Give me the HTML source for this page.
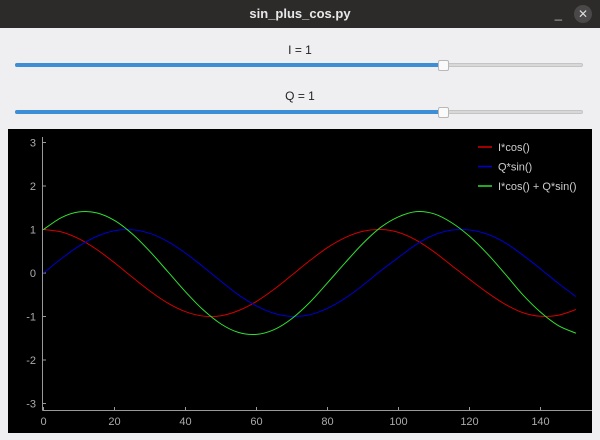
<!DOCTYPE html>
<html><head><meta charset="utf-8"><style>
body{margin:0;width:600px;height:440px;background:#efeef0;font-family:"Liberation Sans",sans-serif;overflow:hidden;position:relative}
.title{position:absolute;left:0;top:0;width:600px;height:28px;background:#2d2a2a;color:#e8e8e8;font-weight:bold;font-size:13px;text-align:center;line-height:28px}
.close{position:absolute;right:8px;top:5px;width:18px;height:18px;border-radius:9px;background:#4a4848;color:#ddd;font-size:12px;line-height:18px;text-align:center;font-weight:normal}
.min{position:absolute;right:38px;top:0;color:#bbb;font-weight:normal}
.lbl{position:absolute;width:600px;text-align:center;font-size:12px;color:#222}
.track{position:absolute;left:15px;width:568px;height:4px;border-radius:2px;background:#d8d8d8;border:1px solid #c4c4c4;box-sizing:border-box}
.fill{position:absolute;left:15px;width:430px;height:4px;border-radius:2px;background:#3d8ed6}
.handle{position:absolute;left:438px;width:11px;height:11px;border-radius:2px;background:#fafafa;border:1px solid #b8b8b8;box-sizing:border-box}
svg{position:absolute;left:8px;top:129px}
</style></head><body>
<div class="title">sin_plus_cos.py<span class="min">_</span><div class="close">✕</div></div>
<div class="lbl" style="top:43px">I = 1</div>
<div class="track" style="top:63px"></div>
<div class="fill" style="top:63px"></div>
<div class="handle" style="top:60px"></div>
<div class="lbl" style="top:89px">Q = 1</div>
<div class="track" style="top:110px"></div>
<div class="fill" style="top:110px"></div>
<div class="handle" style="top:107px"></div>
<svg id="plot" width="584" height="304"></svg>
<script>
const xs=[0,5,10,15,20,25,30,35,40,45,50,55,60,65,70,75,80,85,90,95,100,105,110,115,120,125,130,135,140,145,150];
const cosVals=[1,.945,.7859,.5403,.2352,-.0957,-.4161,-.6908,-.8893,-.99,-.9817,-.8623,-.6536,-.3714,-.0462,.2837,.5853,.8157,.9602,.9996,.9336,.7539,.4872,.17,-.1455,-.4497,-.7163,-.9111,-.9954,-.9717,-.8391];
const sinVals=[0,.3272,.6184,.8415,.9719,.9954,.9093,.7231,.4575,.1411,-.1906,-.5064,-.7568,-.9285,-.9989,-.9589,-.8108,-.5784,-.2794,.0502,.3582,.657,.8733,.9854,.9894,.8932,.6978,.4121,.0958,-.2362,-.544];
const sumVals=cosVals.map((v,i)=>v+sinVals[i]);
const xTicks=[0,20,40,60,80,100,120,140];
const yTicks=[3,2,1,0,-1,-2,-3];
const legendLabels=["I*cos()","Q*sin()","I*cos() + Q*sin()"];
const colors=["#d40000","#0000d0","#30e030"];
const NS="http://www.w3.org/2000/svg";
const svg=document.getElementById('plot');
const X=v=>35.5+v*3.55, Y=v=>144-v*43.5;
function mk(t,a){const e=document.createElementNS(NS,t);for(const k in a)e.setAttribute(k,a[k]);svg.appendChild(e);return e;}
const bg=mk('rect',{x:0,y:0,width:584,height:304,fill:'#000'});


const ya=mk('line',{x1:34.5,y1:8,x2:34.5,y2:281.5,stroke:'#999','stroke-width':1});


const xa=mk('line',{x1:34.5,y1:281.5,x2:584,y2:281.5,stroke:'#999','stroke-width':1});


yTicks.forEach(v=>{
 const t=mk('text',{x:28,y:Y(v)+4,fill:'#aaa','font-size':11,'text-anchor':'end','font-family':'Liberation Sans,sans-serif'});t.textContent=v;
 
 
 const l=mk('line',{x1:34.5,x2:38,y1:Y(v),y2:Y(v),stroke:'#999'});
 
 
});
xTicks.forEach(v=>{
 const t=mk('text',{x:X(v),y:296,fill:'#aaa','font-size':11,'text-anchor':'middle','font-family':'Liberation Sans,sans-serif'});t.textContent=v;
 
 
 const l=mk('line',{x1:X(v),x2:X(v),y1:281.5,y2:278,stroke:'#999'});
 
 
});
function path(vals){
 const p=xs.map((x,i)=>[X(x),Y(vals[i])]);
 let d='M'+p[0][0]+','+p[0][1];
 for(let i=0;i<p.length-1;i++){
  const p0=p[Math.max(i-1,0)],p1=p[i],p2=p[i+1],p3=p[Math.min(i+2,p.length-1)];
  d+=' C'+(p1[0]+(p2[0]-p0[0])/6)+','+(p1[1]+(p2[1]-p0[1])/6)+' '+(p2[0]-(p3[0]-p1[0])/6)+','+(p2[1]-(p3[1]-p1[1])/6)+' '+p2[0]+','+p2[1];
 }
 return d;
}
const names=['cos-series','sin-series','sum-series'];
[cosVals,sinVals,sumVals].forEach((vals,i)=>{
 const e=mk('path',{d:path(vals),fill:'none',stroke:colors[i],'stroke-width':1});
 
 
});
legendLabels.forEach((s,i)=>{
 const y=18+i*19.5;
 const l=mk('line',{x1:470,x2:484,y1:y,y2:y,stroke:colors[i],'stroke-width':1.5});
 
 
 const t=mk('text',{x:490,y:y+4,fill:'#ccc','font-size':11,'font-family':'Liberation Sans,sans-serif'});t.textContent=s;
 
 
});
</script>
</body></html>
